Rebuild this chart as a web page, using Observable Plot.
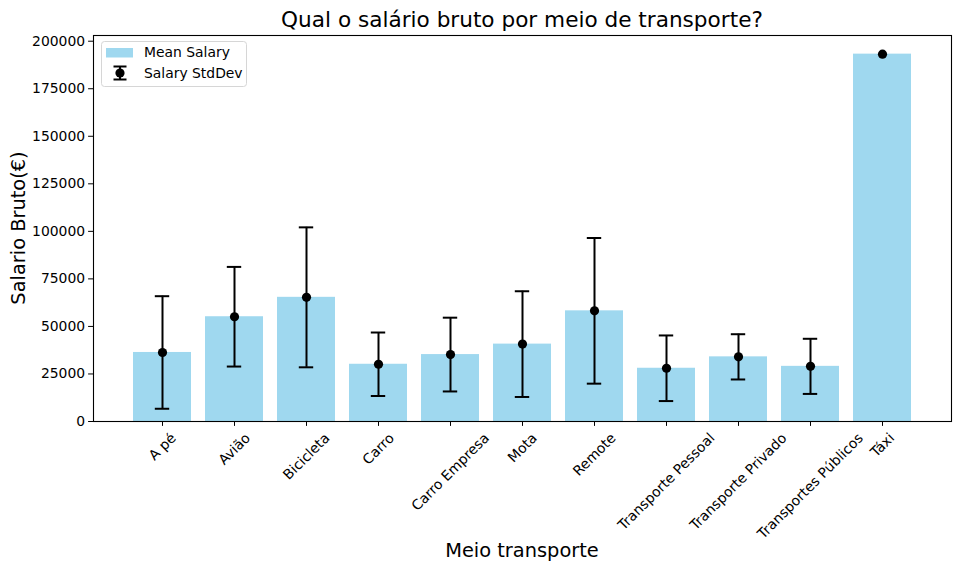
<!DOCTYPE html>
<html>
<head>
<meta charset="utf-8">
<script src="https://cdn.jsdelivr.net/npm/d3@7"></script>
<script src="https://cdn.jsdelivr.net/npm/@observablehq/plot@0.6"></script>
<style>
  html, body { margin: 0; padding: 0; background: #fff; }
  #wrap { position: relative; width: 960px; height: 572px; font-family: "DejaVu Sans", sans-serif; }
</style>
</head>
<body>
<div id="wrap"></div>
<script>
const categories = ["A pé","Avião","Bicicleta","Carro","Carro Empresa","Mota","Remote","Transporte Pessoal","Transporte Privado","Transportes Públicos","Táxi"];
const meanSalary = [36300, 55100, 65300, 30100, 35200, 40700, 58200, 28000, 34000, 29000, 193200];
const stdSalary  = [29600, 26200, 36800, 16700, 19400, 27800, 38300, 17250, 11900, 14500, null];
const yTicks = [0, 25000, 50000, 75000, 100000, 125000, 150000, 175000, 200000];
const titleText = "Qual o salário bruto por meio de transporte?";
const xLabel = "Meio transporte";
const yLabel = "Salario Bruto(€)";
const legendLabels = ["Mean Salary", "Salary StdDev"];

const rows = categories.map((c, i) => ({cat: c, mean: meanSalary[i], std: stdSalary[i]}));
const errRows = rows.filter(d => d.std != null);

const W = 960, H = 572;
const mL = 93, mR = 9, mT = 35, mB = 151;
const FS = 13.9;
const SW = 2;

const plot = Plot.plot({
  width: W, height: H,
  marginLeft: mL, marginRight: mR, marginTop: mT, marginBottom: mB,
  style: {fontFamily: "DejaVu Sans, sans-serif", fontSize: FS + "px", color: "black", background: "white"},
  x: {type: "band", domain: categories, paddingInner: 0.2, paddingOuter: 0.55, label: null},
  y: {domain: [0, 203000], label: null},
  marks: [
    Plot.barY(rows, {x: "cat", y: "mean", fill: "skyblue", fillOpacity: 0.8}),
    Plot.ruleX(errRows, {x: "cat", y1: d => d.mean - d.std, y2: d => d.mean + d.std, stroke: "black", strokeWidth: SW}),
    Plot.tickY(errRows, {x: "cat", y: d => d.mean - d.std, stroke: "black", strokeWidth: SW, insetLeft: 21.8, insetRight: 21.8}),
    Plot.tickY(errRows, {x: "cat", y: d => d.mean + d.std, stroke: "black", strokeWidth: SW, insetLeft: 21.8, insetRight: 21.8}),
    Plot.dot(rows, {x: "cat", y: "mean", r: 4.6, fill: "black", stroke: null}),
    Plot.axisY({ticks: yTicks, tickFormat: d3.format("d"), tickSize: 4.9, tickPadding: 3.5, fontSize: FS, label: null}),
    Plot.axisX({tickSize: 4.9, tickPadding: 4.9, tickRotate: -45, textAnchor: "middle", lineAnchor: "middle", fontSize: FS, label: null}),
    Plot.frame({stroke: "black", strokeWidth: 1.1})
  ]
});

const wrap = document.getElementById("wrap");
wrap.appendChild(plot);

// center rotated x tick labels below their ticks (matplotlib ha="center" style)
const hText = FS * 0.9;
d3.select(plot).selectAll('g[aria-label="x-axis tick label"] text').each(function() {
  const t = this;
  const tr = t.getAttribute("transform") || "";
  const m = /translate\(([-\d.e]+),\s*([-\d.e]+)\)/.exec(tr);
  if (!m) return;
  const x = +m[1], y = +m[2];
  const w = t.getComputedTextLength();
  const off = (w + hText) * Math.SQRT1_2 / 2;
  t.setAttribute("transform", `translate(${x},${y + off}) rotate(-45)`);
});

const svg = d3.select(plot);
svg.append("text").attr("x", (mL + W - mR) / 2).attr("y", 27)
  .attr("text-anchor", "middle").attr("font-size", 21.6).attr("fill", "black").text(titleText);
svg.append("text").attr("x", (mL + W - mR) / 2).attr("y", 557)
  .attr("text-anchor", "middle").attr("font-size", 19.4).attr("fill", "black").text(xLabel);
svg.append("text").attr("transform", `translate(24.5,${(mT + H - mB) / 2}) rotate(-90)`)
  .attr("text-anchor", "middle").attr("font-size", 19.4).attr("fill", "black").text(yLabel);

// legend
const lg = svg.append("g").attr("transform", "translate(101,41)");
lg.append("rect").attr("x", 0.5).attr("y", 0.5).attr("width", 145).attr("height", 45).attr("rx", 3)
  .attr("fill", "white").attr("fill-opacity", 0.8).attr("stroke", "#d6d6d6");
lg.append("rect").attr("x", 5).attr("y", 7).attr("width", 27).attr("height", 9.5)
  .attr("fill", "skyblue").attr("fill-opacity", 0.8);
lg.append("text").attr("x", 43).attr("y", 11.5).attr("dy", "0.35em").attr("text-anchor", "start")
  .attr("font-size", FS).attr("fill", "black").text(legendLabels[0]);
const ex = 19;
lg.append("line").attr("x1", ex).attr("x2", ex).attr("y1", 25.5).attr("y2", 38.5).attr("stroke", "black").attr("stroke-width", SW);
lg.append("line").attr("x1", ex - 6.5).attr("x2", ex + 6.5).attr("y1", 25.5).attr("y2", 25.5).attr("stroke", "black").attr("stroke-width", SW);
lg.append("line").attr("x1", ex - 6.5).attr("x2", ex + 6.5).attr("y1", 38.5).attr("y2", 38.5).attr("stroke", "black").attr("stroke-width", SW);
lg.append("circle").attr("cx", ex).attr("cy", 32).attr("r", 4.6).attr("fill", "black");
lg.append("text").attr("x", 43).attr("y", 32).attr("dy", "0.35em").attr("text-anchor", "start")
  .attr("font-size", FS).attr("fill", "black").text(legendLabels[1]);
</script>
</body>
</html>
